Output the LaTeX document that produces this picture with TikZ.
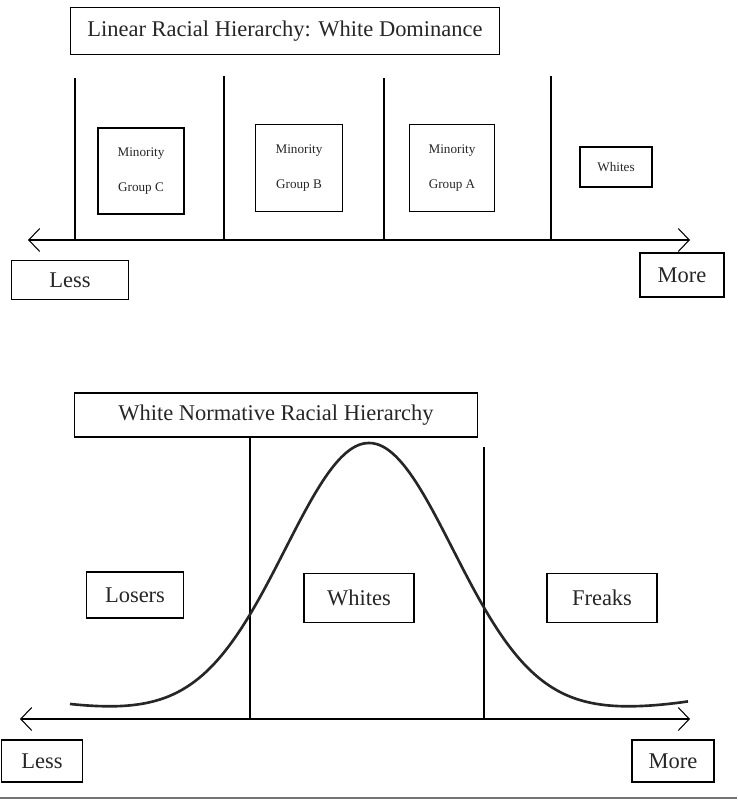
\documentclass[tikz,border=0pt]{standalone}
\usepackage{fontspec}
\setmainfont{Liberation Serif}
\usetikzlibrary{arrows.meta}

\begin{document}
\begin{tikzpicture}[x=0.02cm, y=-0.02cm,
    box/.style={draw, line width=0.6pt, inner sep=0pt, align=center, text=black!85, font=\fontsize{12.8}{15}\selectfont},
    groupbox/.style={box, font=\fontsize{7.5}{20}\selectfont},
    axis/.style={line width=0.6pt, {Straight Barb[length=2.2mm,width=4.6mm]}-{Straight Barb[length=2.2mm,width=4.6mm]}},
    divider/.style={line width=0.6pt}]
    \useasboundingbox (0,0) rectangle (737,801);

    % Linear hierarchy
    \node[box, minimum width=8.6cm, minimum height=0.94cm] (lintitle) at (285,31) {Linear Racial Hierarchy: White Dominance};
    \coordinate (linleft) at (28,240);
    \coordinate (linright) at (690,240);
    \draw[axis] (linleft) -- (linright);
    \foreach \x/\t in {75/78, 224/76, 384/78, 551/76}
        \draw[divider] (\x,\t) -- (\x,240);

    \node[groupbox, minimum width=1.72cm, minimum height=1.72cm] (groupC) at (141,171) {Minority\\Group C};
    \node[groupbox, minimum width=1.74cm, minimum height=1.74cm] (groupB) at (299,168) {Minority\\Group B};
    \node[groupbox, minimum width=1.70cm, minimum height=1.74cm] (groupA) at (452,168) {Minority\\Group A};
    \node[groupbox, minimum width=1.44cm, minimum height=0.8cm] (linwhites) at (616,167) {Whites};

    \node[box, minimum width=2.34cm, minimum height=0.78cm] (linless) at (70,280) {Less};
    \node[box, minimum width=1.68cm, minimum height=0.88cm] (linmore) at (682,275) {More};

    % Normative hierarchy
    \node[box, minimum width=8.06cm, minimum height=0.88cm] (normtitle) at (276,415) {White Normative Racial Hierarchy};
    \coordinate (normleft) at (20,719);
    \coordinate (normright) at (690,719);
    \draw[axis] (normleft) -- (normright);
    \draw[divider] (normtitle.south -| 250,0) -- (250,719);
    \draw[divider] (484,447) -- (484,719);

    % Bell curve
    \draw[line width=1.5pt, black!85] plot[domain=70:688, samples=150, smooth]
        (\x, {714 - 271*exp(-0.5*((\x-369)/84)^2) - 9.7*((\x-369)/300)^4});

    \node[box, minimum width=1.94cm, minimum height=0.92cm] (losers) at (135,595) {Losers};
    \node[box, minimum width=2.2cm, minimum height=0.98cm] (normwhites) at (359,598) {Whites};
    \node[box, minimum width=2.2cm, minimum height=0.98cm] (freaks) at (602,598) {Freaks};

    \node[box, minimum width=1.62cm, minimum height=0.84cm] (normless) at (42,761) {Less};
    \node[box, minimum width=1.64cm, minimum height=0.84cm] (normmore) at (673,761) {More};

    % Page edge
    \draw[line width=1.6pt, black!55] (0,798) -- (737,798);
\end{tikzpicture}
\end{document}
